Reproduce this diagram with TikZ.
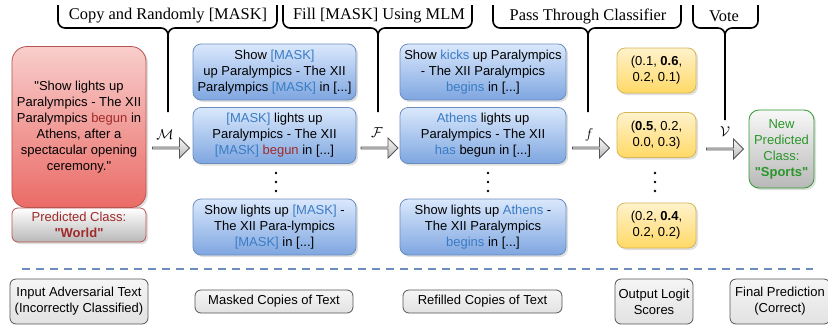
\documentclass[tikz,border=0pt]{standalone}
\usepackage{fontspec}
\setmainfont{Liberation Serif}
\setsansfont{Liberation Sans}[Ligatures=TeXOff]
\usetikzlibrary{shapes.arrows,shadows}
\definecolor{redtop}{HTML}{F8CECC}
\definecolor{redbot}{HTML}{EA6B66}
\definecolor{redbd}{HTML}{B85450}
\definecolor{darkred}{HTML}{A02A2A}
\definecolor{bluetop}{HTML}{DAE8FC}
\definecolor{bluebot}{HTML}{7EA6E0}
\definecolor{bluebd}{HTML}{6C8EBF}
\definecolor{maskblue}{HTML}{3A7CC4}
\definecolor{yeltop}{HTML}{FFF2CC}
\definecolor{yelbot}{HTML}{FFD966}
\definecolor{yelbd}{HTML}{D6B656}
\definecolor{graytop}{HTML}{F8F8F8}
\definecolor{graybot}{HTML}{B8B8B8}
\definecolor{graybd}{HTML}{555555}
\definecolor{greenbd}{HTML}{2E9A2E}
\definecolor{greentx}{HTML}{2A962A}
\definecolor{legtop}{HTML}{F5F5F5}
\definecolor{legbot}{HTML}{E2E2E2}
\newcommand\hlm[1]{\textcolor{maskblue}{#1}}
\newcommand\hlr[1]{\textcolor{darkred}{#1}}
\tikzset{
  txt/.style={font=\sffamily\fontsize{13bp}{16bp}\selectfont, align=center, inner sep=0pt},
  shad/.style={drop shadow={shadow xshift=2bp, shadow yshift=-2bp, opacity=0.25}},
  redbox/.style={txt, draw=redbd, top color=redtop, bottom color=redbot, rounded corners=15bp, line width=0.8bp, minimum width=134bp, minimum height=161bp, shad},
  predbox/.style={txt, draw=redbd, top color=white, bottom color=graybot, rounded corners=6bp, line width=0.8bp, minimum width=134bp, minimum height=34bp, text=darkred, shad},
  bluebox/.style={txt, draw=bluebd, top color=bluetop, bottom color=bluebot, rounded corners=8bp, line width=0.8bp, minimum height=56bp, shad},
  yelbox/.style={txt, draw=yelbd, top color=yeltop, bottom color=yelbot, rounded corners=8bp, line width=0.8bp, minimum width=79bp, minimum height=45bp, shad},
  greenbox/.style={txt, draw=greenbd, top color=graytop, bottom color=graybot, rounded corners=10bp, line width=0.8bp, minimum width=65bp, minimum height=78bp, text=greentx, shad},
  legbox/.style={txt, draw=graybd, top color=legtop, bottom color=legbot, rounded corners=6bp, line width=0.8bp},
  blockarrow/.style={single arrow, draw=graybd, top color=graytop, bottom color=graybot, minimum height=37bp, minimum width=20bp, single arrow head extend=4bp, inner sep=0pt, line width=0.8bp},
  arrlbl/.style={font=\fontsize{15bp}{17bp}\selectfont, inner sep=0pt},
  bracelbl/.style={font=\fontsize{16.4bp}{18bp}\selectfont, inner sep=0pt},
  bracepath/.style={draw=black, line width=1.6bp, rounded corners=7bp},
  dot/.style={fill=black, circle, inner sep=0pt, minimum size=2.6bp},
}
\begin{document}
\begin{tikzpicture}[x=1bp, y=-1bp]
\useasboundingbox (0,0) rectangle (828,327);

% braces
\foreach \L/\T/\R/\B/\n in {58/168/277/112/a, 283/378/472/112/b, 493/588/681/112/c, 693/725/758/120/d}{
  \coordinate (\n L) at (\L,5);
  \coordinate (\n Lc) at (\L,28);
  \coordinate (\n T) at (\T,28);
  \coordinate (\n R) at (\R,5);
  \coordinate (\n Rc) at (\R,28);
  \coordinate (\n B) at (\T,\B);
  \coordinate (\n Bs) at (\T,38);
  \draw[bracepath] (\n L) -- (\n Lc) -- (\n T) -- (\n B);
  \draw[bracepath] (\n R) -- (\n Rc) -- (\n T) -- (\n Bs);
}
\node[bracelbl] (la) at (168,16) {Copy and Randomly [MASK]};
\node[bracelbl] (lb) at (379,16) {Fill [MASK] Using MLM};
\node[bracelbl] (lc) at (588,16) {Pass Through Classifier};
\node[bracelbl] (ld) at (724,16) {Vote};

% input
\node[redbox] (inp) at (79,127) {"Show lights up\\Paralympics - The XII\\Paralympics \hlr{begun} in\\Athens, after a\\spectacular opening\\ceremony."};
\node[predbox] (pred) at (79,225) {Predicted Class:\\\textbf{"World"}};

% masked
\node[bluebox, minimum width=163bp] (m1) at (274.5,72) {Show \hlm{[MASK]}\\up Paralympics - The XII\\Paralympics \hlm{[MASK]} in [...]};
\node[bluebox, minimum width=163bp] (m2) at (274.5,135.5) {\hlm{[MASK]} lights up\\Paralympics - The XII\\\hlm{[MASK]} \hlr{begun} in [...]};
\node[bluebox, minimum width=163bp] (m3) at (274.5,227) {Show lights up \hlm{[MASK]} -\\The XII Para-lympics\\\hlm{[MASK]} in [...]};
\node[dot] (md1) at (276,173) {};
\node[dot] (md2) at (276,182) {};
\node[dot] (md3) at (276,191) {};

% refilled
\node[bluebox, minimum width=166bp] (r1) at (483,72) {Show \hlm{kicks} up Paralympics\\- The XII Paralympics\\\hlm{begins} in [...]};
\node[bluebox, minimum width=166bp] (r2) at (483,135.5) {\hlm{Athens} lights up\\Paralympics - The XII\\\hlm{has} begun in [...]};
\node[bluebox, minimum width=166bp] (r3) at (483,227) {Show lights up \hlm{Athens} -\\The XII Paralympics\\\hlm{begins} in [...]};
\node[dot] (rd1) at (488,173) {};
\node[dot] (rd2) at (488,182) {};
\node[dot] (rd3) at (488,191) {};

% logits
\node[yelbox] (y1) at (656.5,70.5) {(0.1, \textbf{0.6},\\0.2, 0.1)};
\node[yelbox] (y2) at (656.5,135) {(\textbf{0.5}, 0.2,\\0.0, 0.3)};
\node[yelbox] (y3) at (656.5,225.5) {(0.2, \textbf{0.4},\\0.2, 0.2)};
\node[dot] (yd1) at (655,173) {};
\node[dot] (yd2) at (655,182) {};
\node[dot] (yd3) at (655,191) {};

% final
\node[greenbox] (fin) at (781.5,149) {New\\Predicted\\Class:\\\textbf{"Sports"}};

% block arrows
\node[blockarrow] (aM) at (170.5,148) {};
\node[blockarrow] (aF) at (379,148) {};
\node[blockarrow] (af) at (590.5,148) {};
\node[blockarrow] (aV) at (724.5,149) {};
\node[arrlbl] (tM) at (165,135) {$\mathcal{M}$};
\node[arrlbl] (tF) at (377,133) {$\mathcal{F}$};
\node[arrlbl] (tf) at (589,135) {$f$};
\node[arrlbl] (tV) at (725,132) {$\mathcal{V}$};

% separator
\coordinate (sepL) at (22,269);
\coordinate (sepR) at (813,269);
\draw[draw=bluebd, line width=1.8bp, dash pattern=on 7.5bp off 6.5bp] (sepL) -- (sepR);

% legend
\node[legbox, minimum width=138bp, minimum height=45bp] (g1) at (79,301.5) {Input Adversarial Text\\(Incorrectly Classified)};
\node[legbox, minimum width=158bp, minimum height=23bp] (g2) at (274,301.5) {Masked Copies of Text};
\node[legbox, minimum width=159bp, minimum height=23bp] (g3) at (482.5,301.5) {Refilled Copies of Text};
\node[legbox, minimum width=78bp, minimum height=45bp] (g4) at (654,301.5) {Output Logit\\Scores};
\node[legbox, minimum width=100bp, minimum height=45bp] (g5) at (780,301.5) {Final Prediction\\(Correct)};
\end{tikzpicture}
\end{document}
